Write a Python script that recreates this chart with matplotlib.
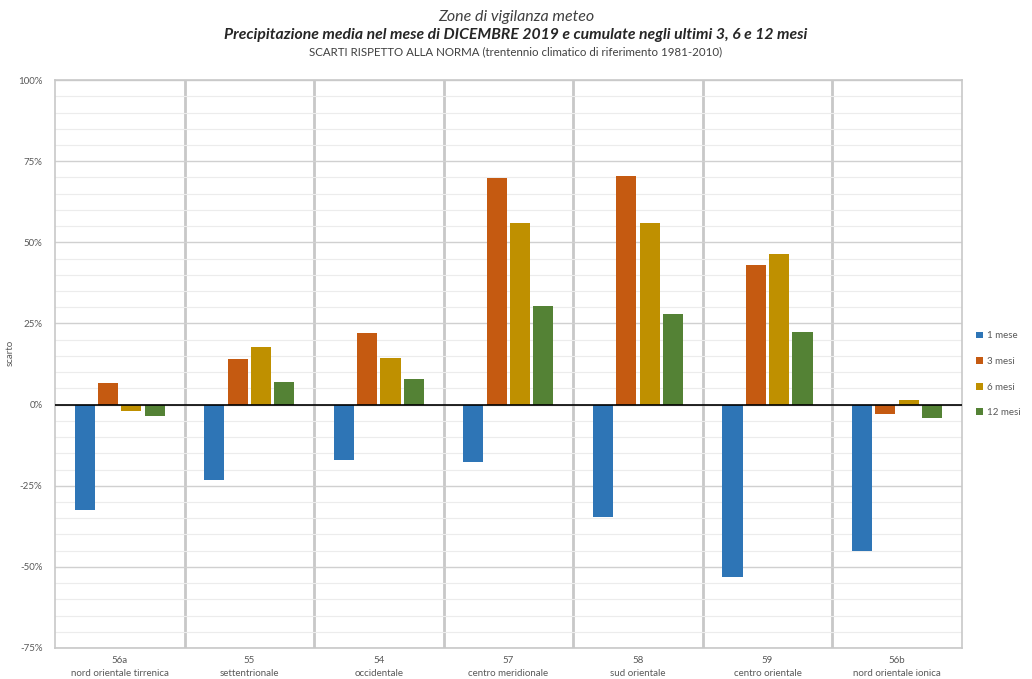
import numpy as np
import matplotlib.pyplot as plt
from matplotlib.ticker import MultipleLocator

plt.rcParams['font.family'] = ['Lato', 'DejaVu Sans']

# Zone di vigilanza (codice + nome)
codici = ["56a", "55", "54", "57", "58", "59", "56b"]
zone = ["nord orientale tirrenica", "settentrionale", "occidentale",
        "centro meridionale", "sud orientale", "centro orientale",
        "nord orientale ionica"]

# Scarti percentuali rispetto alla norma
mese_1 = [-32.6, -23.3, -17.2, -17.8, -34.7, -53.1, -45.1]
mesi_3 = [6.8, 14.1, 22.1, 69.7, 70.6, 43.0, -2.8]
mesi_6 = [-2.0, 17.8, 14.4, 55.9, 55.9, 46.4, 1.5]
mesi_12 = [-3.5, 7.1, 8.0, 30.4, 27.9, 22.4, -4.0]

serie = [("1 mese", mese_1, "#2e75b6"),
         ("3 mesi", mesi_3, "#c55a11"),
         ("6 mesi", mesi_6, "#bf9000"),
         ("12 mesi", mesi_12, "#548235")]

fig = plt.figure(figsize=(10.32, 6.79), dpi=100)
ax = fig.add_axes([0.0533, 0.0457, 0.8787, 0.8363])

x = np.arange(len(codici))
slot = 0.18
width = 0.155
for i, (nome, vals, col) in enumerate(serie):
    ax.bar(x + (i - 1.5) * slot, vals, width, color=col, label=nome, zorder=3)

ax.set_xlim(-0.5, len(codici) - 0.5)
ax.set_ylim(-75, 100)
ax.yaxis.set_major_locator(MultipleLocator(25))
ax.yaxis.set_minor_locator(MultipleLocator(5))
ax.set_yticks(np.arange(-75, 101, 25))
ax.set_yticklabels([f"{v}%" for v in range(-75, 101, 25)])
ax.grid(axis="y", which="major", color="#d0d0d0", linewidth=1.0, zorder=0)
ax.grid(axis="y", which="minor", color="#ececec", linewidth=0.8, zorder=0)
ax.axhline(0, color="black", linewidth=1.2, zorder=4)

for b in np.arange(0.5, len(codici) - 1, 1):
    ax.axvline(b, color="#c8c8c8", linewidth=2, zorder=1)

ax.set_xticks(x)
ax.set_xticklabels([f"{c}\n{z}" for c, z in zip(codici, zone)],
                   fontsize=7, color="#595959", linespacing=1.5)
ax.tick_params(axis="x", length=0, pad=6)
ax.tick_params(axis="y", which="both", length=0, labelsize=7,
               labelcolor="#595959", pad=9)
for s in ax.spines.values():
    s.set_color("#c8c8c8")
    s.set_linewidth(1.2)

ax.set_ylabel("scarto", fontsize=7, color="#595959", labelpad=6)
ax.yaxis.set_label_coords(-0.045, 0.52)

ax.legend(loc="center left", bbox_to_anchor=(1.006, 0.482), frameon=False,
          fontsize=7, labelcolor="#595959", handlelength=0.7,
          handleheight=0.7, handletextpad=0.4, labelspacing=1.7)

fig.text(0.5, 0.975, "Zone di vigilanza meteo", ha="center", va="center",
         fontsize=11.5, style="italic", color="#404040")
fig.text(0.5, 0.948,
         "Precipitazione media nel mese di DICEMBRE 2019 e cumulate negli ultimi 3, 6 e 12 mesi",
         ha="center", va="center", fontsize=11.3, style="italic",
         weight="bold", color="#262626")
fig.text(0.5, 0.923,
         "SCARTI RISPETTO ALLA NORMA (trentennio climatico di riferimento 1981-2010)",
         ha="center", va="center", fontsize=8.3, color="#404040")

fig.savefig("out.png", dpi=100)
